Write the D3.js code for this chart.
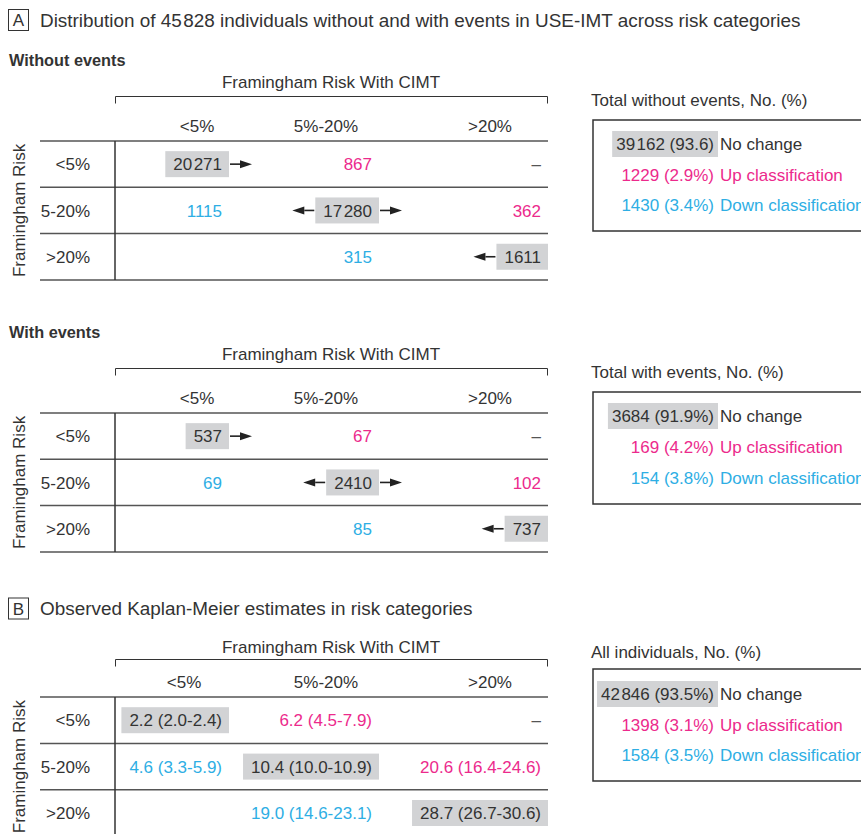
<!DOCTYPE html>
<html><head><meta charset="utf-8">
<script src="https://cdn.jsdelivr.net/npm/d3@7"></script>
<style>
body{margin:0;background:#fff}
svg{display:block;font-family:"Liberation Sans",Arial,Helvetica,sans-serif}
</style>
</head><body>
<svg id="chart" width="861" height="834"></svg>
<script>
// ---------------- DATA ----------------
const colCats = ["<5%", "5%-20%", ">20%"];          // Framingham Risk With CIMT
const rowCats = ["<5%", "5-20%", ">20%"];           // Framingham Risk
const withoutEvents = [[20271, 867, null], [1115, 17280, 362], [null, 315, 1611]];
const withEvents    = [[537, 67, null], [69, 2410, 102], [null, 85, 737]];
const kmEstimate = [[2.2, 6.2, null], [4.6, 10.4, 20.6], [null, 19.0, 28.7]];
const kmLower    = [[2.0, 4.5, null], [3.3, 10.0, 16.4], [null, 14.6, 26.7]];
const kmUpper    = [[2.4, 7.9, null], [5.9, 10.9, 24.6], [null, 23.1, 30.6]];
const classLabels = ["No change", "Up classification", "Down classification"];
const totalWithoutN   = [39162, 1229, 1430];
const totalWithoutPct = [93.6, 2.9, 3.4];
const totalWithN      = [3684, 169, 154];
const totalWithPct    = [91.9, 4.2, 3.8];
const allN            = [42846, 1398, 1584];
const allPct          = [93.5, 3.1, 3.5];
const totalIndividuals = 45828;

// ---------------- STYLE ----------------
const C = {text:"#333", up:"#ec2a8c", down:"#2eaee4", hl:"#d2d3d5", line:"#555", dash:"#555"};
const FS = 17;
const svg = d3.select("#chart");
const f1 = d3.format(".1f");
const fmtN = n => { const s = String(n); return s.length >= 5 ? s.slice(0, -3) + "\u200A" + s.slice(-3) : s; };
const classColor = [C.text, C.up, C.down];

function panelTitle(letter, text, cy) {
  const g = svg.append("g");
  g.append("rect").attr("x", 8.5).attr("y", cy - 10.5).attr("width", 20).attr("height", 21)
    .attr("fill", "none").attr("stroke", C.text).attr("stroke-width", 1);
  g.append("text").attr("x", 18.5).attr("y", cy).attr("dy", "0.36em").attr("text-anchor", "middle")
    .attr("font-size", 17).attr("fill", C.text).text(letter);
  g.append("text").attr("x", 40).attr("y", cy).attr("dy", "0.36em")
    .attr("font-size", 18.9).attr("fill", C.text).text(text);
}

function arrow(g, x0, x1, y) {
  const dir = Math.sign(x1 - x0), head = 12;
  g.append("line").attr("x1", x0).attr("x2", x1 - dir * head).attr("y1", y).attr("y2", y)
    .attr("stroke", "#222").attr("stroke-width", 1.6);
  g.append("path").attr("d", `M${x1},${y}L${x1 - dir * head},${y - 4}L${x1 - dir * head},${y + 4}Z`)
    .attr("fill", "#222");
}

function section(cfg) {
  const g = svg.append("g");
  if (cfg.label) g.append("text").attr("x", 9).attr("y", cfg.labelY).attr("font-size", 16.3)
    .attr("font-weight", "bold").attr("fill", C.text).text(cfg.label);
  // column group title + bracket
  g.append("text").attr("x", 331).attr("y", cfg.cimtY).attr("dy", "0.36em").attr("text-anchor", "middle")
    .attr("font-size", FS).attr("fill", C.text).text("Framingham Risk With CIMT");
  g.append("path").attr("d", `M115.5,${cfg.bracketY + 7}V${cfg.bracketY}H547.5V${cfg.bracketY + 7}`)
    .attr("fill", "none").attr("stroke", C.text).attr("stroke-width", 1);

  const y = d3.scaleBand().domain(rowCats).range([cfg.top, cfg.top + 3 * cfg.rowH]);
  const xCell = d3.scaleOrdinal().domain(colCats).range([222, 372, 541]);
  const xHead = d3.scaleOrdinal().domain(colCats).range(cfg.headX);

  // column headers
  g.selectAll(".ch").data(colCats).join("text")
    .attr("x", d => xHead(d)).attr("y", cfg.headY).attr("dy", "0.36em").attr("text-anchor", "middle")
    .attr("font-size", FS).attr("fill", C.text).text(d => d);
  // row labels
  g.selectAll(".rl").data(rowCats).join("text")
    .attr("x", 90).attr("y", d => y(d) + y.bandwidth() / 2).attr("dy", "0.36em").attr("text-anchor", "end")
    .attr("font-size", FS).attr("fill", C.text).text(d => d);
  // rotated axis label
  g.append("text").attr("transform", `translate(25,${cfg.top + 1.5 * cfg.rowH}) rotate(-90)`)
    .attr("text-anchor", "middle").attr("font-size", FS).attr("fill", C.text).text("Framingham Risk");

  // grid lines
  const ys = [cfg.top].concat(rowCats.map(r => y(r) + y.bandwidth()));
  g.selectAll(".hl").data(ys).join("line").attr("x1", 40).attr("x2", 548)
    .attr("y1", d => d).attr("y2", d => d).attr("stroke", C.line).attr("stroke-width", 1.5);
  g.append("line").attr("x1", 115).attr("x2", 115).attr("y1", cfg.top).attr("y2", ys[3])
    .attr("stroke", "#333").attr("stroke-width", 1.5);

  // cells
  rowCats.forEach((r, i) => colCats.forEach((c, j) => {
    const cy = y(r) + y.bandwidth() / 2;
    let txt = cfg.cell(i, j);
    if (txt == null) txt = j > i ? "\u2013" : "";
    if (!txt) return;
    const isDash = txt === "\u2013";
    const color = isDash ? C.dash : (i === j ? C.text : (j > i ? C.up : C.down));
    const cg = g.append("g");
    const t = cg.append("text").attr("x", xCell(c)).attr("y", cy).attr("dy", "0.36em")
      .attr("text-anchor", "end").attr("font-size", FS).attr("fill", color).text(txt);
    if (i === j) {
      const bb = t.node().getBBox();
      const bx0 = bb.x - 8, bx1 = bb.x + bb.width + 7;
      cg.insert("rect", "text").attr("x", bx0).attr("y", cy - 13).attr("width", bx1 - bx0).attr("height", 26)
        .attr("fill", C.hl);
      if (cfg.arrows) {
        if (j < 2) arrow(cg, bx1 + 1, bx1 + 23, cy);
        if (j > 0) arrow(cg, bx0 - 1, bx0 - 23, cy);
      }
    }
  }));

  // totals box
  const b = svg.append("g");
  b.append("text").attr("x", 591).attr("y", cfg.boxTitleY).attr("dy", "0.36em")
    .attr("font-size", FS).attr("fill", C.text).text(cfg.boxTitle);
  b.append("rect").attr("x", 593).attr("y", cfg.boxTop).attr("width", 320).attr("height", cfg.boxBottom - cfg.boxTop)
    .attr("fill", "none").attr("stroke", "#333").attr("stroke-width", 1.5);
  const ly = d3.scalePoint().domain(classLabels).range(cfg.lineY);
  classLabels.forEach((lab, k) => {
    const cy = ly(lab);
    const val = `${fmtN(cfg.totN[k])} (${f1(cfg.totPct[k])}${cfg.pctSign[k] ? "%" : ""})`;
    const t = b.append("text").attr("x", 714).attr("y", cy).attr("dy", "0.36em").attr("text-anchor", "end")
      .attr("font-size", FS).attr("fill", classColor[k]).text(val);
    if (k === 0) {
      const bb = t.node().getBBox();
      b.insert("rect", "text").attr("x", bb.x - 4).attr("y", cy - 13).attr("width", bb.width + 8).attr("height", 26)
        .attr("fill", C.hl);
    }
    b.append("text").attr("x", 720).attr("y", cy).attr("dy", "0.36em")
      .attr("font-size", FS).attr("fill", classColor[k]).text(lab);
  });
}

// ---------------- PANEL A ----------------
panelTitle("A", `Distribution of ${fmtN(totalIndividuals)} individuals without and with events in USE-IMT across risk categories`, 20);

section({
  label: "Without events", labelY: 66, cimtY: 82, bracketY: 96.5, headY: 126, headX: [197, 326, 490],
  top: 141, rowH: 46.3, arrows: true,
  cell: (i, j) => withoutEvents[i][j] == null ? null : fmtN(withoutEvents[i][j]),
  boxTitle: "Total without events, No. (%)", boxTitleY: 100, boxTop: 120, boxBottom: 231, lineY: [144, 205],
  totN: totalWithoutN, totPct: totalWithoutPct, pctSign: [false, true, true]
});

section({
  label: "With events", labelY: 338, cimtY: 354, bracketY: 368.5, headY: 398, headX: [197, 326, 490],
  top: 413, rowH: 46.3, arrows: true,
  cell: (i, j) => withEvents[i][j] == null ? null : fmtN(withEvents[i][j]),
  boxTitle: "Total with events, No. (%)", boxTitleY: 372, boxTop: 392, boxBottom: 504, lineY: [416, 478],
  totN: totalWithN, totPct: totalWithPct, pctSign: [true, true, true]
});

// ---------------- PANEL B ----------------
panelTitle("B", "Observed Kaplan-Meier estimates in risk categories", 608.5);

section({
  label: null, cimtY: 647, bracketY: 659.5, headY: 682, headX: [184, 326, 490],
  top: 697, rowH: 46.4, arrows: false,
  cell: (i, j) => kmEstimate[i][j] == null ? null : `${f1(kmEstimate[i][j])} (${f1(kmLower[i][j])}-${f1(kmUpper[i][j])})`,
  boxTitle: "All individuals, No. (%)", boxTitleY: 652, boxTop: 669, boxBottom: 781, lineY: [694, 755],
  totN: allN, totPct: allPct, pctSign: [true, true, true]
});
</script>
</body></html>
